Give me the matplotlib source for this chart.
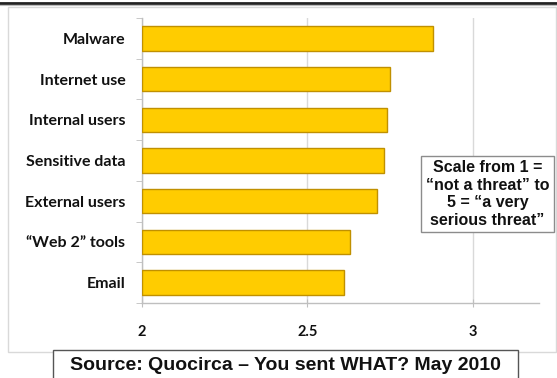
import matplotlib
matplotlib.use("Agg")
import matplotlib.pyplot as plt
from matplotlib.patches import Rectangle
from matplotlib.lines import Line2D

categories = ["Malware", "Internet use", "Internal users", "Sensitive data",
              "External users", "\u201cWeb 2\u201d tools", "Email"]
values = [2.88, 2.75, 2.74, 2.73, 2.71, 2.63, 2.61]
xticks = [2, 2.5, 3]
xticklabels = ["2", "2.5", "3"]
note_text = "Scale from 1 =\n\u201cnot a threat\u201d to\n5 = \u201ca very\nserious threat\u201d"
source_text = "Source: Quocirca \u2013 You sent WHAT? May 2010"

W, H = 557, 378
fig = plt.figure(figsize=(W / 100, H / 100), dpi=100)
fig.patch.set_facecolor("white")

def fx(px):
    return px / W

def fy(py):
    return 1 - py / H

# chart area border
fig.add_artist(Rectangle((fx(8), fy(352)), fx(556) - fx(8), fy(7) - fy(352),
                         transform=fig.transFigure, fill=False,
                         edgecolor="#D9D9D9", linewidth=1.0))
# top black rule
fig.add_artist(Line2D([0, 1], [fy(2.5), fy(2.5)], transform=fig.transFigure,
                      color="#222222", linewidth=2.0))
fig.add_artist(Line2D([0, 1], [fy(5), fy(5)], transform=fig.transFigure,
                      color="#BBBBBB", linewidth=0.8))

ax = fig.add_axes([fx(142), fy(303), fx(539) - fx(142), fy(18) - fy(303)])
pos = list(range(len(categories)))
ax.barh(pos, [v - 2 for v in values], left=2, height=0.6,
        color="#FFCC00", edgecolor="#C09000", linewidth=1.0, zorder=3)
ax.set_ylim(len(categories) - 0.5, -0.5)
ax.set_xlim(2, 3.2)

ax.set_yticks(pos)
ax.set_yticklabels(categories, fontfamily="Lato", fontweight="bold",
                   fontsize=11.5, color="#111111")
ax.set_yticks([p + 0.5 for p in pos] + [-0.5], minor=True)
ax.tick_params(axis="y", which="major", length=0, pad=12)
ax.tick_params(axis="y", which="minor", length=4, color="#BFBFBF",
               direction="out")

ax.set_xticks(xticks)
ax.set_xticklabels(xticklabels, fontfamily="Lato", fontweight="bold",
                   fontsize=10.5, color="#111111")
ax.tick_params(axis="x", which="major", length=6, direction="inout",
               color="#BFBFBF", pad=13)

ax.grid(axis="x", color="#D9D9D9", linewidth=1.0, zorder=0)
ax.set_axisbelow(True)
for s in ["top", "right"]:
    ax.spines[s].set_visible(False)
for s in ["left", "bottom"]:
    ax.spines[s].set_color("#BFBFBF")
    ax.spines[s].set_linewidth(1.0)

# note box
fig.text(fx(487.5), fy(194), note_text, ha="center", va="center",
         fontfamily="Liberation Sans", fontweight="bold", fontsize=11.5,
         linespacing=1.2, color="#111111",
         bbox=dict(boxstyle="square,pad=0.3", facecolor="white",
                   edgecolor="#8C8C8C", linewidth=1.0))

# source box
fig.add_artist(Rectangle((fx(53), fy(380)), fx(518) - fx(53), fy(350) - fy(380),
                         transform=fig.transFigure, facecolor="white",
                         edgecolor="#555555", linewidth=1.0))
fig.text(fx(285), fy(365), source_text, ha="center", va="center",
         fontfamily="Liberation Sans", fontweight="bold", fontsize=14,
         color="#111111")

fig.savefig("out.png", dpi=100)
